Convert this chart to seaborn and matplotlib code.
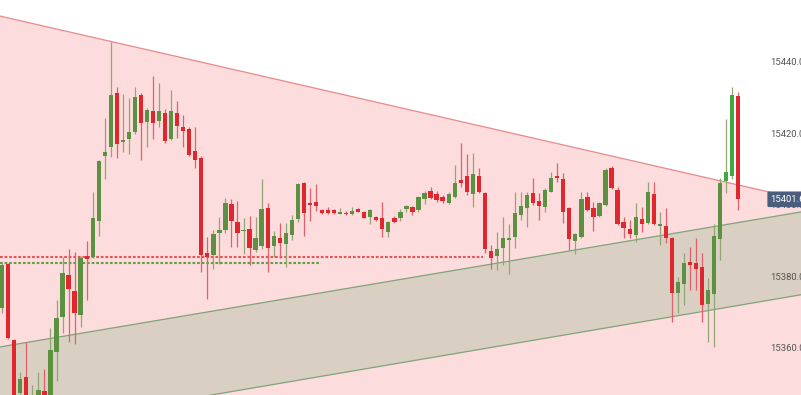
import matplotlib
matplotlib.use("Agg")
import matplotlib.pyplot as plt
import matplotlib.transforms as mtransforms
import numpy as np
import pandas as pd
import seaborn as sns

# OHLC candles, oldest first
opens = [15371.2, 15383.5, 15362.2, 15347.4, 15351.9, 15344.1, 15345.5, 15348.0, 15346.0, 15358.9,
         15368.7, 15380.4, 15375.9, 15369.2, 15385.7, 15385.5, 15395.5, 15413.7, 15416.2, 15431.3,
         15417.7, 15418.5, 15420.4, 15430.8, 15423.2, 15426.3, 15423.5, 15425.7, 15418.5, 15425.7,
         15421.8, 15421.3, 15415.1, 15413.1, 15386.6, 15386.0, 15392.2, 15393.0, 15400.3, 15395.2,
         15392.7, 15393.3, 15387.4, 15388.5, 15399.2, 15388.5, 15390.8, 15389.1, 15391.6, 15396.1,
         15406.2, 15400.6, 15400.8, 15398.6, 15398.6, 15398.6, 15397.6, 15397.8, 15397.5, 15398.9,
         15398.0, 15396.6, 15396.6, 15396.4, 15392.4, 15396.4, 15396.4, 15398.9, 15399.4, 15398.6,
         15401.7, 15403.9, 15403.1, 15402.2, 15400.6, 15402.2, 15407.0, 15408.1, 15403.1, 15408.1,
         15403.4, 15387.1, 15385.7, 15388.0, 15390.2, 15391.0, 15397.2, 15399.2, 15403.4, 15401.1,
         15399.4, 15403.6, 15408.1, 15407.3, 15399.2, 15389.9, 15391.0, 15402.2, 15399.2, 15396.9,
         15400.0, 15410.3, 15404.2, 15395.2, 15393.3, 15391.6, 15396.1, 15395.0, 15403.1, 15394.2,
         15394.1, 15390.8, 15375.4, 15377.9, 15384.1, 15383.8, 15382.7, 15372.3, 15375.1, 15390.5,
         15406.7, 15408.1, 15430.5]
highs = [15384.1, 15383.8, 15362.5, 15353.3, 15361.7, 15349.6, 15353.3, 15354.1, 15365.6, 15373.4,
         15385.5, 15387.7, 15386.9, 15385.7, 15389.9, 15403.6, 15412.6, 15424.3, 15445.6, 15433.0,
         15431.0, 15429.9, 15433.0, 15431.3, 15427.1, 15436.1, 15434.1, 15426.9, 15432.2, 15429.1,
         15425.2, 15421.8, 15421.8, 15413.7, 15391.1, 15393.0, 15396.6, 15402.0, 15401.7, 15401.1,
         15396.4, 15396.9, 15396.6, 15407.3, 15400.6, 15392.7, 15395.0, 15395.0, 15397.2, 15406.2,
         15406.4, 15404.8, 15405.9, 15398.9, 15399.4, 15398.9, 15399.2, 15398.3, 15399.4, 15399.2,
         15398.3, 15398.9, 15396.9, 15400.8, 15395.5, 15396.9, 15398.9, 15400.0, 15399.7, 15402.5,
         15403.9, 15405.0, 15403.9, 15402.8, 15403.6, 15411.2, 15417.3, 15414.3, 15414.5, 15410.3,
         15403.6, 15388.8, 15392.4, 15396.6, 15394.7, 15403.6, 15403.6, 15403.6, 15407.6, 15403.4,
         15404.8, 15409.2, 15411.8, 15409.0, 15399.4, 15392.2, 15403.6, 15403.6, 15400.8, 15400.8,
         15410.3, 15410.9, 15405.0, 15396.6, 15395.8, 15400.6, 15399.4, 15406.4, 15406.4, 15398.0,
         15399.2, 15391.0, 15379.9, 15386.6, 15388.3, 15390.8, 15386.6, 15379.6, 15394.7, 15407.6,
         15424.1, 15433.0, 15431.6]
lows = [15369.8, 15362.5, 15342.7, 15346.0, 15342.1, 15342.7, 15344.6, 15344.1, 15344.9, 15350.8,
        15364.2, 15361.7, 15361.1, 15365.9, 15373.4, 15385.2, 15391.3, 15407.3, 15413.4, 15413.1,
        15414.8, 15414.3, 15419.9, 15412.6, 15416.2, 15418.5, 15421.8, 15417.3, 15418.2, 15418.7,
        15416.2, 15413.7, 15410.3, 15381.3, 15373.7, 15382.1, 15383.5, 15392.2, 15388.3, 15388.3,
        15386.3, 15383.2, 15386.9, 15387.7, 15381.3, 15385.5, 15385.2, 15382.7, 15390.2, 15395.2,
        15391.3, 15395.5, 15398.3, 15397.5, 15397.5, 15397.5, 15397.5, 15397.2, 15397.2, 15398.0,
        15396.4, 15394.7, 15395.5, 15391.0, 15391.0, 15395.0, 15395.5, 15398.0, 15397.2, 15398.0,
        15400.3, 15401.7, 15400.8, 15400.6, 15400.3, 15402.0, 15405.0, 15402.8, 15399.4, 15403.4,
        15386.6, 15382.1, 15381.8, 15383.2, 15380.7, 15388.0, 15395.8, 15393.8, 15400.0, 15395.8,
        15398.0, 15403.5, 15406.4, 15395.0, 15387.4, 15386.3, 15390.8, 15398.3, 15392.7, 15396.6,
        15399.7, 15404.5, 15394.4, 15390.8, 15390.8, 15389.6, 15392.4, 15394.7, 15394.4, 15388.8,
        15389.4, 15367.3, 15369.8, 15372.0, 15376.2, 15376.2, 15367.3, 15361.7, 15360.3, 15384.6,
        15403.4, 15407.3, 15398.6]
closes = [15383.2, 15362.8, 15344.1, 15351.3, 15345.5, 15346.0, 15348.3, 15345.5, 15359.4, 15368.4,
          15381.0, 15376.5, 15369.8, 15385.2, 15384.9, 15396.4, 15412.3, 15414.8, 15430.8, 15417.1,
          15418.3, 15420.4, 15430.2, 15422.9, 15426.6, 15422.9, 15426.3, 15417.9, 15426.3, 15422.1,
          15420.7, 15414.0, 15412.6, 15386.0, 15385.5, 15391.9, 15393.0, 15400.6, 15395.5, 15392.2,
          15392.7, 15388.0, 15390.8, 15398.9, 15388.0, 15391.3, 15389.4, 15392.2, 15395.8, 15405.9,
          15397.8, 15400.0, 15399.7, 15397.8, 15397.8, 15397.8, 15397.7, 15397.5, 15398.3, 15398.0,
          15396.4, 15398.6, 15395.8, 15393.3, 15395.2, 15395.2, 15398.0, 15399.7, 15398.0, 15402.2,
          15403.4, 15402.0, 15401.4, 15401.1, 15403.1, 15406.2, 15406.2, 15403.6, 15408.7, 15403.6,
          15387.7, 15385.2, 15387.7, 15390.8, 15390.8, 15397.8, 15399.7, 15402.8, 15400.6, 15399.7,
          15404.2, 15407.6, 15407.6, 15398.0, 15390.5, 15391.9, 15401.7, 15398.6, 15396.6, 15400.6,
          15409.8, 15404.8, 15394.7, 15393.6, 15391.9, 15396.6, 15394.7, 15403.6, 15394.7, 15394.7,
          15390.8, 15375.4, 15378.5, 15383.8, 15383.2, 15382.1, 15372.0, 15376.2, 15391.3, 15406.2,
          15409.2, 15430.8, 15401.6]

last_price = 15401.6
price_ticks = [15360.0, 15380.0, 15400.0, 15420.0, 15440.0]

# drawing tools: (bar index, price) anchors
resistance_line = [(0, 15452.7), (122, 15405.6)]
channel_top = [(0, 15360.4), (122, 15395.1)]
channel_bottom = [(0, 15336.9), (122, 15371.9)]
red_level = [15385.4, 79.7]     # price, last bar it reaches
green_level = [15383.8, 52.8]

x_view = [-0.365, 132.4]
y_view = [15346.85, 15457.34]

PINK = "#fcdcdc"
BEIGE = "#d9d0c3"
UP_BODY, DOWN_BODY = "#5b9140", "#df272d"
UP_WICK, DOWN_WICK = "#93a574", "#e2606a"
UP_BODY_LIVE = "#3fa83f"

sns.set_style("white")
plt.rcParams["font.family"] = ["Roboto", "DejaVu Sans"]

df = pd.DataFrame({"open": opens, "high": highs, "low": lows, "close": closes})
df["bar"] = np.arange(len(df))
df["up"] = df["close"] >= df["open"]

fig = plt.figure(figsize=(8.01, 3.95), dpi=100)
ax = fig.add_axes([0, 0, 1, 1])
ax.set_axisbelow(False)
ax.set_xlim(*x_view)
ax.set_ylim(*y_view)


def line_at(pts, x):
    (x0, y0), (x1, y1) = pts
    return y0 + (y1 - y0) * (np.asarray(x) - x0) / (x1 - x0)


xs = np.array(x_view)
ax.fill_between(xs, y_view[0], line_at(resistance_line, xs), color=PINK, lw=0, zorder=0)
ax.fill_between(xs, line_at(channel_bottom, xs), line_at(channel_top, xs), color=BEIGE, lw=0, zorder=1)

sns.lineplot(x=xs, y=line_at(resistance_line, xs), ax=ax, color="#e88a8a", lw=0.9, zorder=2)
sns.lineplot(x=xs, y=line_at(channel_top, xs), ax=ax, color="#7fa478", lw=0.9, zorder=2)
sns.lineplot(x=xs, y=line_at(channel_bottom, xs), ax=ax, color="#7fa478", lw=0.9, zorder=2)

ax.hlines(red_level[0], x_view[0], red_level[1], colors="#e45454", lw=1.5,
          linestyles=(0, (1.3, 0.9)), zorder=2.2)
ax.hlines(green_level[0], x_view[0], green_level[1], colors="#5f9e4c", lw=1.5,
          linestyles=(0, (1.3, 0.9)), zorder=2.2)

# wicks
wick_colors = np.where(df["up"], UP_WICK, DOWN_WICK)
ax.vlines(df["bar"], df["low"], df["high"], colors=wick_colors, lw=0.9, zorder=3)

# bodies
body_colors = np.where(df["up"], UP_BODY, DOWN_BODY).astype(object)
body_colors[-3:-1] = UP_BODY_LIVE
bottoms = df[["open", "close"]].min(axis=1)
heights = np.maximum((df["close"] - df["open"]).abs(), 0.3)
ax.bar(df["bar"], heights, bottom=bottoms, width=0.71, color=list(body_colors), lw=0, zorder=4)

# price scale
ax.yaxis.tick_right()
ax.set_yticks(price_ticks)
ax.set_yticklabels([f"{p:.1f}" for p in price_ticks])
ax.tick_params(axis="y", length=0, pad=-22.3, labelsize=6.8, labelcolor="#555555")
ax.set_xticks([])
for s in ax.spines.values():
    s.set_visible(False)

trans = mtransforms.blended_transform_factory(ax.transAxes, ax.transData)
ax.text(770.7 / 801, last_price, f"{last_price:.1f}", transform=trans, ha="left", va="center",
        fontsize=6.8, color="white", zorder=10,
        bbox=dict(boxstyle="round,pad=0.35,rounding_size=0.15", fc="#4a5d7c", ec="none"))

fig.savefig("out.png", dpi=100)
